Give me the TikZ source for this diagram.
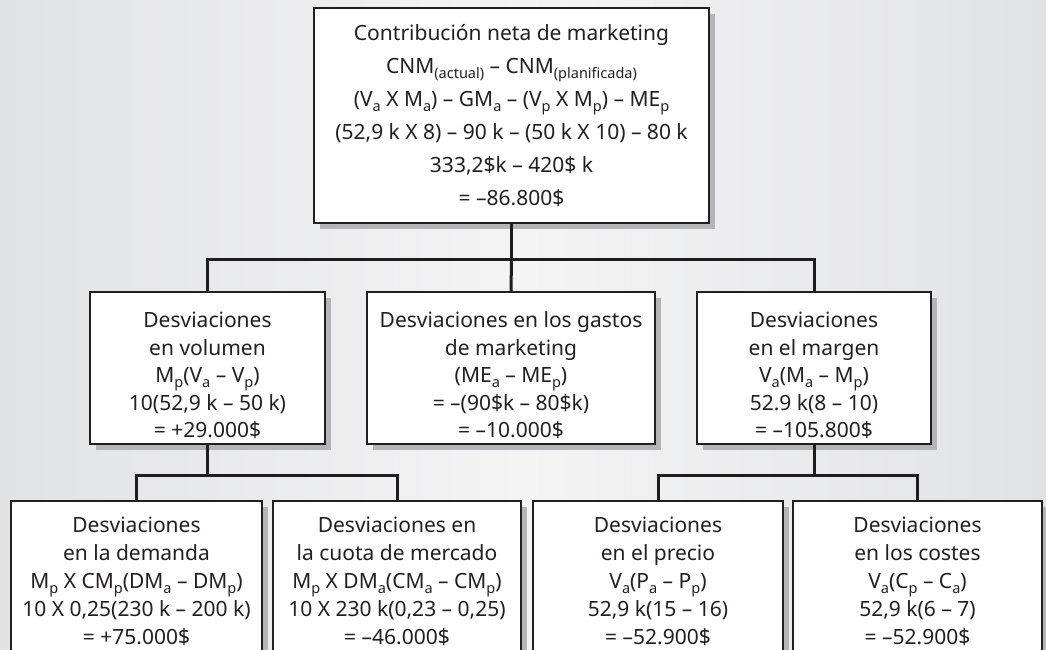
\documentclass[tikz,border=0pt]{standalone}
\usepackage{fontspec}
\setmainfont{Noto Sans}
\usetikzlibrary{shadows}
\definecolor{txt}{HTML}{231F20}
\definecolor{shad}{HTML}{B4B5B8}
\definecolor{bgside}{HTML}{E1E2E4}
\definecolor{bgmid}{HTML}{F4F4F5}
\newcommand{\sbs}[1]{\raisebox{-0.22em}{\fontsize{14.5}{14.5}\selectfont #1}}
\newcommand{\lines}[2]{\raisebox{#1}[\height][\depth]{\begin{tabular}{@{}c@{}}#2\end{tabular}}}
\tikzset{
  box/.style={draw=txt, line width=1.3pt, fill=white, align=center, text=txt,
    inner sep=0pt, font=\fontsize{21}{27.5}\selectfont,
    drop shadow={shadow xshift=6pt, shadow yshift=-6pt, fill=shad, opacity=1}},
  conn/.style={draw=txt!90!black, line width=3pt, line join=miter}
}
\begin{document}
\begin{tikzpicture}[x=1pt,y=-1pt]
\useasboundingbox (0,0) rectangle (1046,650);
\clip (0,0) rectangle (1046,650);
\shade[left color=bgside, right color=bgside, middle color=bgmid] (0,0) rectangle (1046,650);

\node[box, minimum width=395pt, minimum height=215pt, font=\fontsize{21}{33}\selectfont] (top) at (511.5,115.5)
 {\lines{-1pt}{Contribución neta de marketing\\
  CNM\sbs{(actual)} – CNM\sbs{(planificada)}\\
  (V\sbs{a} X M\sbs{a}) – GM\sbs{a} – (V\sbs{p} X M\sbs{p}) – ME\sbs{p}\\
  (52,9 k X 8) – 90 k – (50 k X 10) – 80 k\\
  333,2\$k – 420\$ k\\
  = –86.800\$}};

\node[box, minimum width=235pt, minimum height=152pt] (m1) at (207.5,368)
 {\lines{-9pt}{Desviaciones\\ en volumen\\ M\sbs{p}(V\sbs{a} – V\sbs{p})\\ 10(52,9 k – 50 k)\\ = +29.000\$}};
\node[box, minimum width=288pt, minimum height=152pt] (m2) at (511,368)
 {\lines{-9pt}{Desviaciones en los gastos\\ de marketing\\ (ME\sbs{a} – ME\sbs{p})\\ = –(90\$k – 80\$k)\\ = –10.000\$}};
\node[box, minimum width=234pt, minimum height=152pt] (m3) at (814,368)
 {\lines{-9pt}{Desviaciones\\ en el margen\\ V\sbs{a}(M\sbs{a} – M\sbs{p})\\ 52.9 k(8 – 10)\\ = –105.800\$}};

\node[box, minimum width=251pt, minimum height=160pt, font=\fontsize{21}{28}\selectfont] (b1) at (136.5,581)
 {\lines{-2pt}{Desviaciones\\ en la demanda\\ M\sbs{p} X CM\sbs{p}(DM\sbs{a} – DM\sbs{p})\\ 10 X 0,25(230 k – 200 k)\\ = +75.000\$}};
\node[box, minimum width=248pt, minimum height=160pt, font=\fontsize{21}{28}\selectfont] (b2) at (397,581)
 {\lines{-2pt}{Desviaciones en\\ la cuota de mercado\\ M\sbs{p} X DM\sbs{a}(CM\sbs{a} – CM\sbs{p})\\ 10 X 230 k(0,23 – 0,25)\\ = –46.000\$}};
\node[box, minimum width=250pt, minimum height=160pt, font=\fontsize{21}{28}\selectfont] (b3) at (658,581)
 {\lines{-2pt}{Desviaciones\\ en el precio\\ V\sbs{a}(P\sbs{a} – P\sbs{p})\\ 52,9 k(15 – 16)\\ = –52.900\$}};
\node[box, minimum width=249pt, minimum height=160pt, font=\fontsize{21}{28}\selectfont] (b4) at (917.5,581)
 {\lines{-2pt}{Desviaciones\\ en los costes\\ V\sbs{a}(C\sbs{p} – C\sbs{a})\\ 52,9 k(6 – 7)\\ = –52.900\$}};

\coordinate (j0) at (511.5,259);
\coordinate (j1) at (207.5,475);
\coordinate (j3) at (814,475);
\draw[conn] (top.south) -- (j0);
\draw[conn] (j0) -| (m1.north);
\draw[conn] (j0) -| (m3.north);
\draw[conn] (j0) -- (m2.north);
\draw[conn] (m1.south) -- (j1);
\draw[conn] (j1) -| (b1.north);
\draw[conn] (j1) -| (b2.north);
\draw[conn] (m3.south) -- (j3);
\draw[conn] (j3) -| (b3.north);
\draw[conn] (j3) -| (b4.north);
\end{tikzpicture}
\end{document}
